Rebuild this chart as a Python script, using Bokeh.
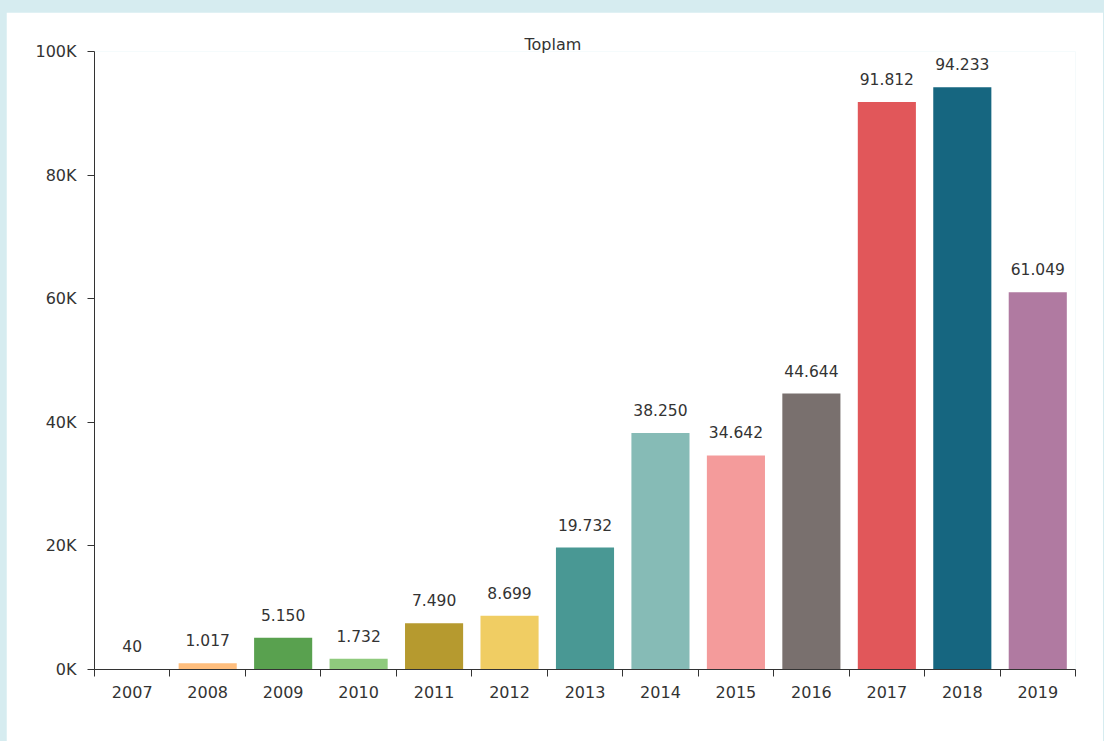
from bokeh.plotting import figure
from bokeh.models import (ColumnDataSource, Range1d, FixedTicker, CustomJSTickFormatter,
                          Spacer, GlobalInlineStyleSheet)
from bokeh.layouts import column, row
from bokeh.embed import file_html
from bokeh.resources import INLINE
from bokeh.core.properties import value

years = ["2007", "2008", "2009", "2010", "2011", "2012", "2013",
         "2014", "2015", "2016", "2017", "2018", "2019"]
totals = [40, 1017, 5150, 1732, 7490, 8699, 19732,
          38250, 34642, 44644, 91812, 94233, 61049]
colors = ["#a0cbe8", "#ffbe7d", "#59a14f", "#8fca7d", "#b69a2f", "#f0cd63", "#499894",
          "#86bbb6", "#f49b9b", "#79706e", "#e1575a", "#166680", "#b07aa1"]
y_ticks = [0, 20000, 40000, 60000, 80000, 100000]
title_text = "Toplam"

FONT = "DejaVu Sans"
TXT = "#333333"

n = len(years)
centers = [i + 0.5 for i in range(n)]
labels = [f"{v:,}".replace(",", ".") for v in totals]

src = ColumnDataSource(dict(x=centers, top=totals, color=colors, label=labels))

p = figure(width=1097, height=729, output_backend="svg", toolbar_location=None,
           x_range=Range1d(0, n), y_range=Range1d(0, y_ticks[-1]),
           min_border_left=88, min_border_right=28, min_border_top=39, min_border_bottom=72)
p.outline_line_color = None
p.grid.visible = False
p.background_fill_color = "white"
p.border_fill_color = "white"

p.title.text = title_text
p.title.align = "left"
p.title.offset = 430
p.title.standoff = -4
p.title.text_font = FONT
p.title.text_font_size = "16px"
p.title.text_font_style = "normal"
p.title.text_color = TXT

p.vbar(x="x", top="top", width=0.77, fill_color="color", line_color=None, source=src)
p.text(x="x", y="top", text="label", source=src, text_align="center", text_baseline="middle",
       y_offset=-23, text_font=value(FONT), text_font_size="15.5px", text_color=TXT)

# x axis: labels at centres, tick marks at category boundaries
xa = p.xaxis[0]
xa.ticker = FixedTicker(ticks=centers, minor_ticks=list(range(n + 1)))
xa.major_label_overrides = {c: y for c, y in zip(centers, years)}
xa.major_tick_line_color = None
xa.major_tick_out = 7
xa.major_tick_in = 0
xa.minor_tick_out = 7
xa.minor_tick_in = 0
xa.minor_tick_line_color = TXT
xa.axis_line_color = TXT
xa.major_label_standoff = 9
xa.major_label_text_font = FONT
xa.major_label_text_font_size = "16px"
xa.major_label_text_color = TXT

ya = p.yaxis[0]
ya.ticker = FixedTicker(ticks=y_ticks)
ya.formatter = CustomJSTickFormatter(code="return (tick/1000).toFixed(0) + 'K';")
ya.major_tick_out = 7
ya.major_tick_in = 0
ya.minor_tick_line_color = None
ya.major_tick_line_color = TXT
ya.axis_line_color = TXT
ya.major_label_standoff = 11
ya.major_label_text_font = FONT
ya.major_label_text_font_size = "16px"
ya.major_label_text_color = TXT

layout = column(Spacer(width=1103, height=12),
                row(Spacer(width=6, height=729), p),
                stylesheets=[GlobalInlineStyleSheet(css="body { background-color: #d6ecf0; }")])

open("out.html", "w").write(file_html(layout, INLINE))
